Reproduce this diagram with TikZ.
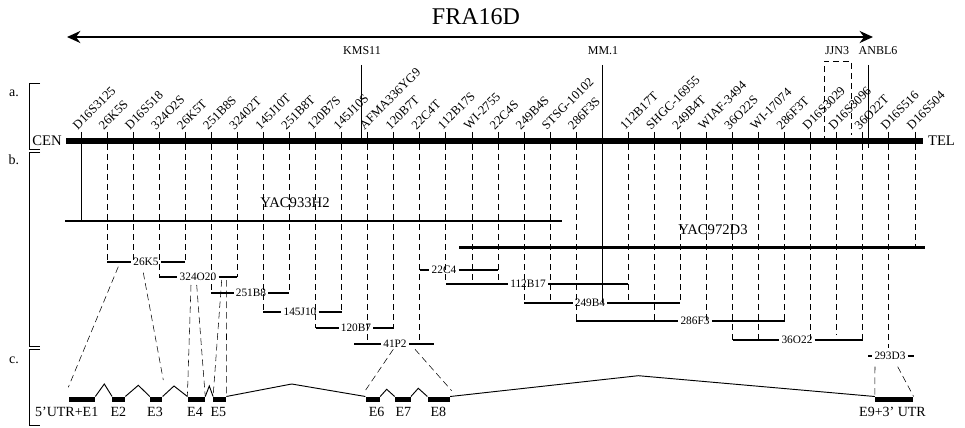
\documentclass[tikz,border=0pt]{standalone}
\usepackage{fontspec}
\setmainfont{Liberation Serif}
\usetikzlibrary{arrows.meta}

\begin{document}
\begin{tikzpicture}[x=0.75pt, y=-0.75pt,
  mlab/.style={rotate=45, anchor=south west, inner sep=0.5pt,
               font=\fontsize{9.5}{10}\selectfont},
  clab/.style={inner sep=1.5pt, font=\fontsize{8.5}{10}\selectfont},
  elab/.style={inner sep=0pt, font=\fontsize{10.5}{12}\selectfont},
  cell/.style={inner sep=1pt, font=\fontsize{9}{10}\selectfont},
  exon/.style={fill, inner sep=0pt, minimum height=3.8pt},
  dashline/.style={dash pattern=on 4.5pt off 3pt, line width=0.6pt},
  linkline/.style={dash pattern=on 5pt off 3pt, line width=0.4pt},
  clone/.style={line width=1.5pt},
  yac/.style={line width=2.2pt},
  chrom/.style={line width=3.8pt},
  intron/.style={line width=0.7pt}
]
\useasboundingbox (0,0) rectangle (965,428);

% title and fragile region
\node[font=\fontsize{18}{20}\selectfont] (title) at (476,17) {FRA16D};
\coordinate (fl) at (67,37);
\coordinate (fr) at (873,37);
\draw[line width=2.2pt, {Stealth[length=10pt,width=9pt]}-{Stealth[length=10pt,width=9pt]}] (fl) -- (fr);

% panel brackets
\draw (40,83.3) -- (29.5,83.3) -- (29.5,149.3) -- (40,149.3);
\draw (40,152.7) -- (29.5,152.7) -- (29.5,346) -- (40,346);
\draw (40,349.3) -- (29.5,349.3) -- (29.5,425) -- (40,425);
\node[elab] (pa) at (14,93) {a.};
\node[elab] (pb) at (14,160) {b.};
\node[elab] (pc) at (14,360) {c.};

% chromosome
\node[font=\fontsize{11}{12}\selectfont] (cen) at (47,141) {CEN};
\node[font=\fontsize{11}{12}\selectfont] (tel) at (941.5,141) {TEL};
\draw[chrom] (cen.east) -- (tel.west);

% markers
\foreach \k/\lab/\yend in {0/D16S3125/221, 1/26K5S/262, 2/D16S518/262,
    3/324O2S/277, 4/26K5T/262, 5/251B8S/293, 6/32402T/277, 7/145J10T/312,
    8/251B8T/293, 9/120B7S/328, 10/145J10S/312, 11/AFMA336YG9/344,
    12/120B7T/328, 13/22C4T/344, 14/112B17S/284, 15/WI-2755/284,
    16/22C4S/284, 17/249B4S/303, 18/STSG-10102/303, 19/286F3S/321,
    21/112B17T/303, 22/SHGC-16955/321, 23/249B4T/303, 24/WIAF-3494/321,
    25/36O22S/340, 26/WI-17074/340, 27/286F3T/321, 28/D16S3029/340,
    29/D16S3096/335, 30/36O22T/340, 31/D16S516/348, 32/D16S504/247.7}{
  \pgfmathsetmacro\mx{81+26.06*\k}
  \coordinate (mk\k) at (\mx,132);
  \coordinate (mc\k) at (\mx,144);
  \coordinate (me\k) at (\mx,\yend);
  \draw[line width=0.6pt] (mk\k) -- (mc\k);
  \draw[dashline] (mc\k) -- (me\k);
  \node[mlab] at (\mx-3,131.5) {\lab};
}
\draw[line width=0.6pt] (mc0) -- (me0);

% myeloma cell line breakpoints
\node[cell] (kms) at (362,51) {KMS11};
\node[cell] (mm) at (603,51) {MM.1};
\node[cell] (jjn) at (837,51) {JJN3};
\node[cell] (anb) at (878,51) {ANBL6};
\coordinate (kmsa) at (361.7,65);  \coordinate (kmsb) at (361.7,141);
\coordinate (mma) at (602.7,65);   \coordinate (mmb) at (602.7,303);
\coordinate (anba) at (868,65);    \coordinate (anbb) at (868,148);
\draw[line width=0.7pt] (kmsa) -- (kmsb);
\draw[line width=0.7pt] (mma) -- (mmb);
\draw[line width=0.7pt] (anba) -- (anbb);
\draw[dashline] (824,142) -- (824,61) -- (851,61) -- (851,135);

% YACs
\draw[yac] (65,221) -- (562,221);
\node[font=\fontsize{11}{12}\selectfont] (yac1) at (295,203) {YAC933H2};
\draw[yac] (459,247.7) -- (925,247.7);
\node[font=\fontsize{11}{12}\selectfont] (yac2) at (713,230) {YAC972D3};

% BACs and cosmids
\foreach \nm/\a/\b/\y/\xl in {26K5/1/4/262/146, 324O20/3/6/277/198,
    251B8/5/8/293/251, 145J10/7/10/312/300, 120B7/9/12/328/356,
    22C4/13/16/270/444, 112B17/14/21/284/528, 249B4/17/23/303/590,
    286F3/19/27/321/695, 36O22/25/30/340/797}{
  \node[clab] (c\nm) at (\xl,\y) {\nm};
  \draw[clone] (mk\a |- c\nm) -- (c\nm.west);
  \draw[clone] (c\nm.east) -- (mk\b |- c\nm);
}
\node[clab] (c41P2) at (395,344) {41P2};
\coordinate (c41a) at (354,344);
\coordinate (c41b) at (434,344);
\draw[clone] (c41a) -- (c41P2.west);
\draw[clone] (c41P2.east) -- (c41b);
\node[clab] (c293D3) at (890,356) {293D3};
\coordinate (c293a) at (868,356);
\coordinate (c293b) at (914,356);
\draw[clone] (c293a) -- (c293D3.west);
\draw[clone] (c293D3.east) -- (c293b);

% exons
\node[exon, minimum width=19.3pt] (e1) at (82.2,399.3) {};
\node[exon, minimum width=9.5pt] (e2) at (118.7,399.3) {};
\node[exon, minimum width=9.2pt] (e3) at (156.2,399.3) {};
\node[exon, minimum width=13pt] (e4) at (196.3,399.3) {};
\node[exon, minimum width=9.5pt] (e5) at (219.7,399.3) {};
\node[exon, minimum width=10.7pt] (e6) at (372.8,399.3) {};
\node[exon, minimum width=11.8pt] (e7) at (402.8,399.3) {};
\node[exon, minimum width=16.7pt] (e8) at (438.8,399.3) {};
\node[exon, minimum width=28.7pt] (e9) at (894.2,399.3) {};

\node[elab] (l1) at (66.7,412) {5'UTR+E1};
\node[elab] (l2) at (118.3,412) {E2};
\node[elab] (l3) at (155,412) {E3};
\node[elab] (l4) at (195,412) {E4};
\node[elab] (l5) at (218.3,412) {E5};
\node[elab] (l6) at (376.7,412) {E6};
\node[elab] (l7) at (403.3,412) {E7};
\node[elab] (l8) at (438.3,412) {E8};
\node[elab] (l9) at (892.5,412) {E9+3' UTR};

% introns
\coordinate (p12) at (104.3,384);
\coordinate (p23) at (138.3,385.3);
\coordinate (p34) at (174,386);
\coordinate (p45) at (209.3,386);
\coordinate (p56) at (291.7,384);
\coordinate (p67) at (386.7,389.3);
\coordinate (p78) at (418.3,388.3);
\coordinate (p89) at (638.3,375.7);
\draw[intron] (e1.north east) -- (p12) -- (e2.north west);
\draw[intron] (e2.north east) -- (p23) -- (e3.north west);
\draw[intron] (e3.north east) -- (p34) -- (e4.north west);
\draw[intron] (e4.north east) -- (p45) -- (e5.north west);
\draw[intron] (e5.north east) -- (p56) -- (e6.north west);
\draw[intron] (e6.north east) -- (p67) -- (e7.north west);
\draw[intron] (e7.north east) -- (p78) -- (e8.north west);
\draw[intron] (e8.north east) -- (p89) -- (e9.north west);

% clones mapped onto exons
\coordinate (k5a) at (118.3,266.7);  \coordinate (k5b) at (68.3,387.3);
\coordinate (k5c) at (143.3,272.7);  \coordinate (k5d) at (163.3,380);
\draw[linkline] (k5a) -- (k5b);
\draw[linkline] (k5c) -- (k5d);
\coordinate (o20a) at (191,285);  \coordinate (o20b) at (196.7,285);
\draw[linkline] (o20a) -- (e4.north west);
\draw[linkline] (o20b) -- (e4.north east);
\coordinate (b8a) at (221.7,280);  \coordinate (b8b) at (226.7,280);
\draw[linkline] (b8a) -- (e5.north west);
\draw[linkline] (b8b) -- (e5.north east);
\coordinate (p2a) at (393.3,349.3);  \coordinate (p2b) at (365.7,390);
\coordinate (p2c) at (415,349.3);    \coordinate (p2d) at (451.7,390.7);
\draw[linkline] (p2a) -- (p2b);
\draw[linkline] (p2c) -- (p2d);
\coordinate (d3a) at (875,366.7);  \coordinate (d3b) at (897.7,366.7);
\draw[linkline] (d3a) -- (e9.north west);
\draw[linkline] (d3b) -- (e9.north east);
\end{tikzpicture}
\end{document}
